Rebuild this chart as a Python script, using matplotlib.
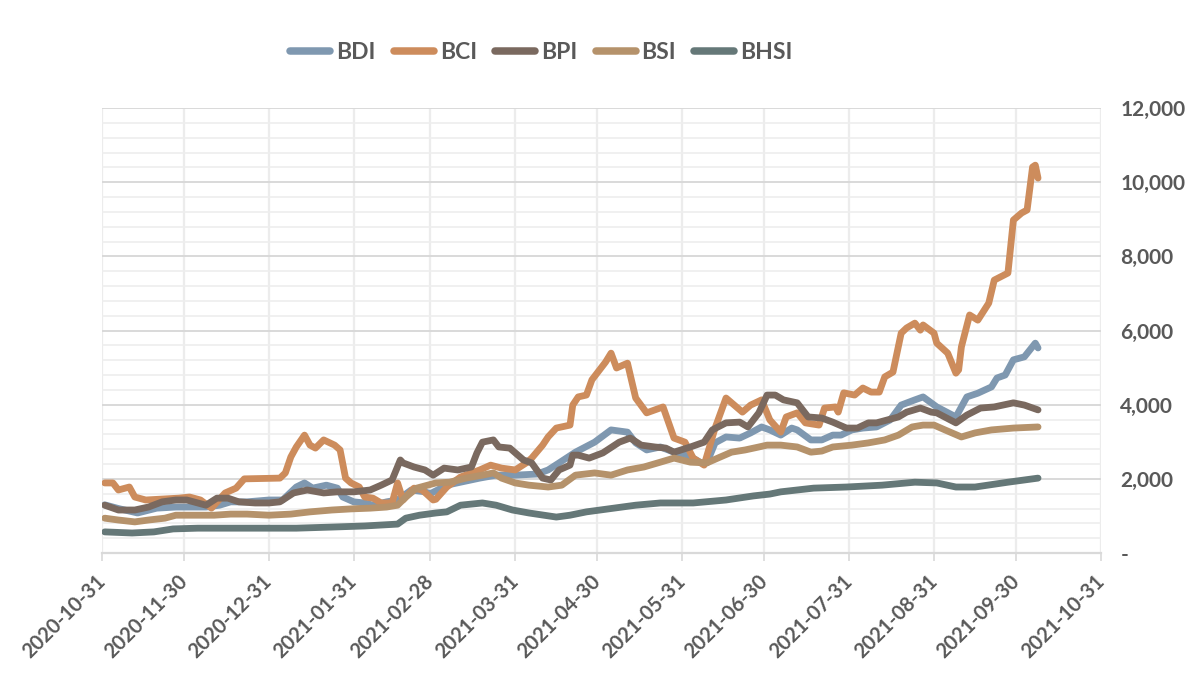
import matplotlib
matplotlib.use("Agg")
import matplotlib.pyplot as plt
import matplotlib.dates as mdates
from matplotlib.ticker import FuncFormatter, MultipleLocator
from matplotlib.lines import Line2D
import pandas as pd

# ---------------- data ----------------
series_names = ["BDI", "BCI", "BPI", "BSI", "BHSI"]
series_colors = ["#7F98B0", "#CD8C5C", "#7A695F", "#B5926B", "#657878"]

bdi_dates = ["2020-11-01", "2020-11-06", "2020-11-13", "2020-11-20", "2020-11-27", "2020-12-08",
             "2020-12-13", "2020-12-17", "2020-12-23", "2020-12-31", "2021-01-05", "2021-01-10",
             "2021-01-13", "2021-01-16", "2021-01-21", "2021-01-25", "2021-01-27", "2021-01-31",
             "2021-02-04", "2021-02-07", "2021-02-12", "2021-02-16", "2021-02-21", "2021-02-26",
             "2021-02-28", "2021-03-06", "2021-03-11", "2021-03-18", "2021-03-24", "2021-03-31",
             "2021-04-08", "2021-04-12", "2021-04-16", "2021-04-22", "2021-04-29", "2021-05-05",
             "2021-05-11", "2021-05-14", "2021-05-18", "2021-05-23", "2021-05-28", "2021-06-02",
             "2021-06-07", "2021-06-09", "2021-06-12", "2021-06-16", "2021-06-21", "2021-06-25",
             "2021-06-29", "2021-07-02", "2021-07-06", "2021-07-10", "2021-07-12", "2021-07-17",
             "2021-07-21", "2021-07-25", "2021-07-28", "2021-08-01", "2021-08-05", "2021-08-10",
             "2021-08-15", "2021-08-19", "2021-08-24", "2021-08-27", "2021-09-01", "2021-09-08",
             "2021-09-12", "2021-09-16", "2021-09-21", "2021-09-23", "2021-09-26", "2021-09-29",
             "2021-10-03", "2021-10-07", "2021-10-08"]
bdi_values = [1300, 1200, 1080, 1210, 1240, 1240,
              1290, 1380, 1380, 1430, 1430, 1780,
              1890, 1750, 1830, 1750, 1510, 1380,
              1350, 1290, 1380, 1430, 1700, 1650,
              1600, 1830, 1910, 2020, 2100, 2100,
              2130, 2240, 2430, 2720, 2990, 3320,
              3260, 2970, 2780, 2860, 2720, 2640,
              2430, 2430, 2970, 3130, 3100, 3240,
              3400, 3320, 3180, 3370, 3320, 3050,
              3050, 3180, 3180, 3320, 3370, 3400,
              3590, 3990, 4130, 4210, 3940, 3670,
              4210, 4310, 4480, 4720, 4800, 5210,
              5290, 5660, 5530]

bci_dates = ["2020-11-01", "2020-11-04", "2020-11-06", "2020-11-10", "2020-11-12", "2020-11-16",
             "2020-11-28", "2020-12-02", "2020-12-06", "2020-12-10", "2020-12-15", "2020-12-19",
             "2020-12-22", "2021-01-04", "2021-01-06", "2021-01-08", "2021-01-10", "2021-01-13",
             "2021-01-15", "2021-01-17", "2021-01-20", "2021-01-24", "2021-01-26", "2021-01-28",
             "2021-01-30", "2021-02-02", "2021-02-04", "2021-02-07", "2021-02-10", "2021-02-14",
             "2021-02-16", "2021-02-18", "2021-02-22", "2021-02-25", "2021-03-01", "2021-03-02",
             "2021-03-06", "2021-03-11", "2021-03-18", "2021-03-22", "2021-03-26", "2021-03-31",
             "2021-04-04", "2021-04-06", "2021-04-10", "2021-04-12", "2021-04-15", "2021-04-20",
             "2021-04-21", "2021-04-23", "2021-04-26", "2021-04-28", "2021-05-03", "2021-05-05",
             "2021-05-07", "2021-05-11", "2021-05-14", "2021-05-18", "2021-05-24", "2021-05-28",
             "2021-06-01", "2021-06-04", "2021-06-08", "2021-06-12", "2021-06-16", "2021-06-22",
             "2021-06-25", "2021-06-29", "2021-07-02", "2021-07-06", "2021-07-08", "2021-07-12",
             "2021-07-15", "2021-07-20", "2021-07-22", "2021-07-26", "2021-07-27", "2021-07-29",
             "2021-08-02", "2021-08-05", "2021-08-08", "2021-08-11", "2021-08-13", "2021-08-16",
             "2021-08-19", "2021-08-21", "2021-08-24", "2021-08-26", "2021-08-27", "2021-08-31",
             "2021-09-01", "2021-09-05", "2021-09-08", "2021-09-09", "2021-09-10", "2021-09-13",
             "2021-09-16", "2021-09-20", "2021-09-22", "2021-09-27", "2021-09-29", "2021-10-02",
             "2021-10-04", "2021-10-06", "2021-10-07", "2021-10-08"]
bci_values = [1890, 1890, 1700, 1780, 1510, 1430,
              1480, 1510, 1430, 1210, 1620, 1750,
              2000, 2020, 2160, 2590, 2860, 3180,
              2910, 2830, 3050, 2910, 2780, 2020,
              1890, 1780, 1510, 1480, 1350, 1350,
              1890, 1430, 1750, 1700, 1430, 1450,
              1780, 2050, 2240, 2370, 2290, 2240,
              2430, 2560, 2910, 3130, 3370, 3450,
              3990, 4210, 4260, 4670, 5150, 5390,
              4990, 5120, 4180, 3780, 3940, 3100,
              2990, 2560, 2370, 3370, 4180, 3800,
              3990, 4130, 3590, 3260, 3670, 3780,
              3510, 3450, 3910, 3940, 3800, 4320,
              4260, 4450, 4340, 4340, 4750, 4880,
              5930, 6070, 6200, 6010, 6150, 5930,
              5660, 5390, 4850, 4940, 5560, 6420,
              6280, 6740, 7360, 7550, 8980, 9170,
              9250, 10410, 10460, 10110]

bpi_dates = ["2020-11-01", "2020-11-06", "2020-11-12", "2020-11-17", "2020-11-22", "2020-11-27",
             "2020-12-01", "2020-12-05", "2020-12-08", "2020-12-12", "2020-12-16", "2020-12-20",
             "2020-12-26", "2020-12-31", "2021-01-04", "2021-01-09", "2021-01-14", "2021-01-20",
             "2021-01-25", "2021-01-31", "2021-02-06", "2021-02-10", "2021-02-14", "2021-02-17",
             "2021-02-18", "2021-02-22", "2021-02-26", "2021-03-01", "2021-03-05", "2021-03-10",
             "2021-03-15", "2021-03-17", "2021-03-19", "2021-03-23", "2021-03-25", "2021-03-29",
             "2021-04-03", "2021-04-06", "2021-04-10", "2021-04-13", "2021-04-16", "2021-04-20",
             "2021-04-21", "2021-04-23", "2021-04-27", "2021-05-02", "2021-05-08", "2021-05-12",
             "2021-05-16", "2021-05-21", "2021-05-25", "2021-05-28", "2021-06-03", "2021-06-08",
             "2021-06-11", "2021-06-16", "2021-06-21", "2021-06-24", "2021-06-28", "2021-07-01",
             "2021-07-04", "2021-07-07", "2021-07-12", "2021-07-16", "2021-07-21", "2021-07-25",
             "2021-07-30", "2021-08-03", "2021-08-07", "2021-08-10", "2021-08-14", "2021-08-18",
             "2021-08-21", "2021-08-26", "2021-08-30", "2021-09-01", "2021-09-08", "2021-09-12",
             "2021-09-17", "2021-09-22", "2021-09-29", "2021-10-03", "2021-10-08"]
bpi_values = [1290, 1160, 1160, 1240, 1380, 1430,
              1430, 1350, 1290, 1480, 1480, 1380,
              1350, 1350, 1380, 1620, 1700, 1620,
              1650, 1650, 1700, 1830, 1970, 2510,
              2430, 2320, 2240, 2100, 2290, 2240,
              2320, 2700, 2990, 3050, 2860, 2830,
              2510, 2430, 2020, 1970, 2240, 2370,
              2640, 2640, 2560, 2700, 2990, 3100,
              2910, 2860, 2830, 2720, 2860, 2990,
              3320, 3510, 3530, 3400, 3780, 4260,
              4260, 4130, 4050, 3670, 3640, 3530,
              3370, 3370, 3510, 3510, 3590, 3670,
              3800, 3910, 3800, 3780, 3510, 3720,
              3910, 3940, 4050, 3990, 3860]

bsi_dates = ["2020-11-01", "2020-11-06", "2020-11-12", "2020-11-17", "2020-11-23", "2020-11-27",
             "2020-12-05", "2020-12-11", "2020-12-17", "2020-12-23", "2020-12-31", "2021-01-08",
             "2021-01-15", "2021-01-23", "2021-01-30", "2021-02-06", "2021-02-12", "2021-02-16",
             "2021-02-19", "2021-02-23", "2021-02-27", "2021-03-02", "2021-03-07", "2021-03-13",
             "2021-03-19", "2021-03-23", "2021-03-26", "2021-03-31", "2021-04-05", "2021-04-12",
             "2021-04-17", "2021-04-22", "2021-04-29", "2021-05-05", "2021-05-11", "2021-05-17",
             "2021-05-23", "2021-05-28", "2021-06-03", "2021-06-09", "2021-06-13", "2021-06-18",
             "2021-06-23", "2021-06-28", "2021-07-01", "2021-07-06", "2021-07-12", "2021-07-17",
             "2021-07-21", "2021-07-25", "2021-08-01", "2021-08-07", "2021-08-13", "2021-08-18",
             "2021-08-23", "2021-08-27", "2021-08-31", "2021-09-04", "2021-09-10", "2021-09-15",
             "2021-09-21", "2021-09-29", "2021-10-08"]
bsi_values = [940, 890, 840, 890, 940, 1020,
              1020, 1020, 1050, 1050, 1020, 1050,
              1110, 1160, 1190, 1210, 1240, 1290,
              1510, 1750, 1830, 1890, 1910, 2020,
              2100, 2160, 2020, 1890, 1830, 1780,
              1830, 2100, 2160, 2100, 2240, 2320,
              2450, 2560, 2450, 2430, 2560, 2720,
              2780, 2860, 2910, 2910, 2860, 2720,
              2750, 2860, 2910, 2970, 3050, 3180,
              3400, 3450, 3450, 3320, 3130, 3240,
              3320, 3370, 3400]

bhsi_dates = ["2020-11-01", "2020-11-11", "2020-11-19", "2020-11-26", "2020-12-05", "2020-12-17",
              "2020-12-31", "2021-01-10", "2021-01-23", "2021-02-04", "2021-02-16", "2021-02-19",
              "2021-02-24", "2021-03-02", "2021-03-06", "2021-03-11", "2021-03-19", "2021-03-24",
              "2021-03-30", "2021-04-05", "2021-04-15", "2021-04-20", "2021-04-26", "2021-05-06",
              "2021-05-14", "2021-05-23", "2021-06-04", "2021-06-16", "2021-06-26", "2021-07-02",
              "2021-07-06", "2021-07-18", "2021-07-30", "2021-08-12", "2021-08-24", "2021-09-01",
              "2021-09-08", "2021-09-15", "2021-09-27", "2021-10-08"]
bhsi_values = [570, 540, 570, 650, 670, 670,
               670, 670, 700, 730, 780, 940,
               1020, 1080, 1110, 1290, 1350, 1290,
               1160, 1080, 970, 1020, 1110, 1210,
               1290, 1350, 1350, 1430, 1540, 1590,
               1650, 1750, 1780, 1830, 1910, 1890,
               1780, 1780, 1910, 2020]

x_tick_labels = ["2020-10-31", "2020-11-30", "2020-12-31", "2021-01-31", "2021-02-28",
                 "2021-03-31", "2021-04-30", "2021-05-31", "2021-06-30", "2021-07-31",
                 "2021-08-31", "2021-09-30", "2021-10-31"]
y_ticks = [0, 2000, 4000, 6000, 8000, 10000, 12000]

# ---------------- drawing ----------------
plt.rcParams["font.family"] = ["Lato", "DejaVu Sans"]
text_color = "#595959"

fig = plt.figure(figsize=(11.94, 6.98), dpi=100)
ax = fig.add_axes([0.0854, 0.2077, 0.8367, 0.6375])

all_dates = [bdi_dates, bci_dates, bpi_dates, bsi_dates, bhsi_dates]
all_values = [bdi_values, bci_values, bpi_values, bsi_values, bhsi_values]
for i, (name, col, d, v) in enumerate(zip(series_names, series_colors, all_dates, all_values)):
    ax.plot(pd.to_datetime(d), v, color=col, lw=4.9, solid_joinstyle="round",
            solid_capstyle="round", zorder=3 + i, label=name)

xt = pd.to_datetime(x_tick_labels)
ax.set_xlim(xt[0], xt[-1])
ax.set_ylim(0, 12000)
ax.set_xticks(xt)
ax.set_xticklabels(x_tick_labels, rotation=45, ha="right", va="center",
                   rotation_mode="anchor", fontsize=14.5, fontweight="bold", color=text_color)
ax.tick_params(axis="x", length=6, width=1.2, color="#d9d9d9", pad=12)

ax.yaxis.tick_right()
ax.set_yticks(y_ticks)
ax.yaxis.set_major_formatter(FuncFormatter(lambda v, p: "-" if v == 0 else f"{int(v):,}"))
ax.yaxis.set_minor_locator(MultipleLocator(400))
ax.tick_params(axis="y", which="both", length=0, pad=14, labelsize=15, labelcolor=text_color)
for lbl in ax.get_yticklabels():
    lbl.set_fontweight("bold")

ax.grid(True, axis="y", which="minor", color="#eeeeee", lw=1.2, zorder=0)
ax.grid(True, axis="y", which="major", color="#d9d9d9", lw=1.4, zorder=0)
ax.grid(True, axis="x", which="major", color="#ececec", lw=1.6, zorder=0)
for s in ["top", "right", "left"]:
    ax.spines[s].set_visible(False)
ax.spines["bottom"].set_color("#d9d9d9")
ax.spines["bottom"].set_linewidth(1.6)

handles = [Line2D([0], [0], color=c, lw=5.4, solid_capstyle="round") for c in series_colors]
leg = fig.legend(handles, series_names, loc="center", bbox_to_anchor=(0.4535, 0.925),
                 ncol=5, frameon=False, handlelength=1.75, handletextpad=0.25,
                 columnspacing=0.8, prop={"size": 16.5, "weight": "bold"})
for t in leg.get_texts():
    t.set_color(text_color)

fig.savefig("out.png", dpi=100, facecolor="white")
